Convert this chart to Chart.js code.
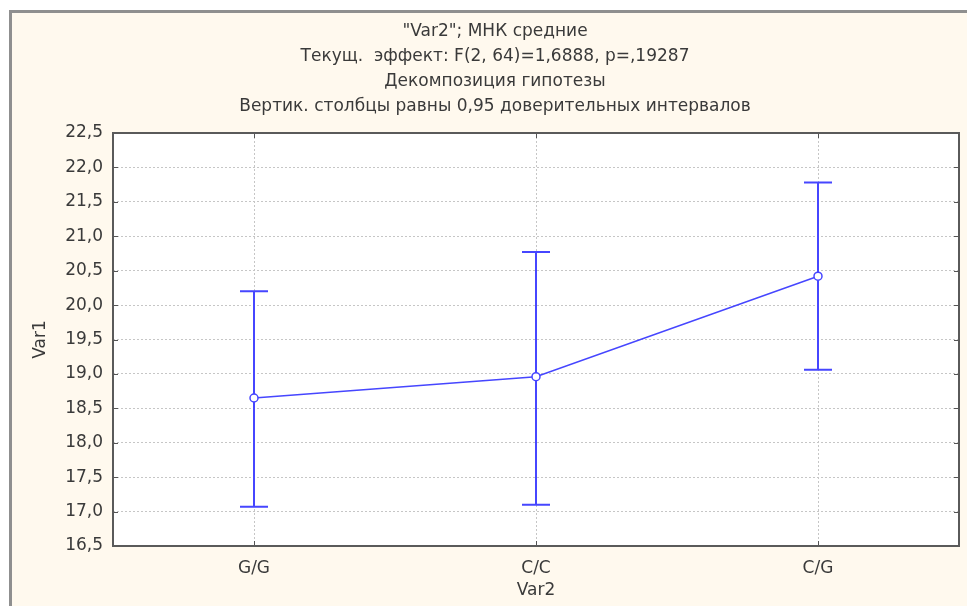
<!DOCTYPE html>
<html>
<head>
<meta charset="utf-8">
<script src="https://cdn.jsdelivr.net/npm/chart.js@4/dist/chart.umd.min.js"></script>
<style>
  html, body { margin: 0; padding: 0; background: #ffffff; }
  canvas { display: block; }
</style>
</head>
<body>
<canvas id="chart" width="967" height="606"></canvas>
<script>
// Least-squares means of Var1 by Var2 group, with 0.95 confidence intervals
const categories = ['G/G', 'C/C', 'C/G'];
const means = [18.65, 18.96, 20.42];
const ciLower = [17.07, 17.10, 19.06];
const ciUpper = [20.20, 20.77, 21.78];

const titleLines = [
  '"Var2"; МНК средние',
  'Текущ.  эффект: F(2, 64)=1,6888, p=,19287',
  'Декомпозиция гипотезы',
  'Вертик. столбцы равны 0,95 доверительных интервалов'
];
const yAxisTitle = 'Var1';
const xAxisTitle = 'Var2';
const yMin = 16.5, yMax = 22.5, yStep = 0.5;

const FONT = "'DejaVu Sans', 'Liberation Sans', sans-serif";
const BLUE = '#4646ff';
const TEXT = '#3a3a3a';

// window frame, cream panel and white plotting area
const backdrop = {
  id: 'backdrop',
  beforeDraw(chart) {
    const { ctx, width, height, chartArea: a } = chart;
    ctx.save();
    ctx.fillStyle = '#ffffff';
    ctx.fillRect(0, 0, width, height);
    ctx.fillStyle = '#fff9ee';
    ctx.fillRect(12, 13, width - 12, height - 13);
    ctx.fillStyle = '#8f8f8f';
    ctx.fillRect(9, 10, 3, height - 10);
    ctx.fillRect(9, 10, width - 9, 3);
    ctx.fillStyle = '#ffffff';
    ctx.fillRect(a.left, a.top, a.right - a.left, a.bottom - a.top);
    ctx.restore();
  }
};

// four-line heading centred over the panel
const heading = {
  id: 'heading',
  afterDraw(chart) {
    const { ctx } = chart;
    ctx.save();
    ctx.font = '17px ' + FONT;
    ctx.fillStyle = TEXT;
    ctx.textAlign = 'center';
    ctx.textBaseline = 'middle';
    titleLines.forEach((t, i) => ctx.fillText(t, 495, 32 + i * 25));
    ctx.restore();
  }
};

// confidence-interval whiskers with caps
const whiskers = {
  id: 'whiskers',
  beforeDatasetsDraw(chart) {
    const { ctx, scales: { x, y } } = chart;
    ctx.save();
    ctx.strokeStyle = BLUE;
    ctx.lineWidth = 2;
    categories.forEach((c, i) => {
      const px = Math.round(x.getPixelForValue(i));
      const lo = y.getPixelForValue(ciLower[i]);
      const hi = y.getPixelForValue(ciUpper[i]);
      ctx.beginPath();
      ctx.moveTo(px, lo); ctx.lineTo(px, hi);
      ctx.moveTo(px - 14, lo); ctx.lineTo(px + 14, lo);
      ctx.moveTo(px - 14, hi); ctx.lineTo(px + 14, hi);
      ctx.stroke();
    });
    ctx.restore();
  }
};

// plot frame with inward tick marks on all four sides
const frame = {
  id: 'frame',
  afterDatasetsDraw(chart) {
    const { ctx, chartArea: a, scales: { x, y } } = chart;
    ctx.save();
    ctx.strokeStyle = '#555555';
    ctx.lineWidth = 1;
    ctx.beginPath();
    x.ticks.forEach((t, i) => {
      const px = Math.round(x.getPixelForTick(i)) + 0.5;
      ctx.moveTo(px, a.bottom); ctx.lineTo(px, a.bottom - 5);
      ctx.moveTo(px, a.top); ctx.lineTo(px, a.top + 5);
    });
    y.ticks.forEach((t, i) => {
      const py = Math.round(y.getPixelForTick(i)) + 0.5;
      ctx.moveTo(a.left, py); ctx.lineTo(a.left + 5, py);
      ctx.moveTo(a.right, py); ctx.lineTo(a.right - 5, py);
    });
    ctx.stroke();
    ctx.lineWidth = 2;
    ctx.strokeStyle = '#5a5a5a';
    ctx.strokeRect(a.left, a.top, a.right - a.left, a.bottom - a.top);
    ctx.restore();
  }
};

new Chart(document.getElementById('chart'), {
  type: 'line',
  data: {
    labels: categories,
    datasets: [{
      data: means,
      borderColor: BLUE,
      borderWidth: 1.5,
      pointRadius: 4,
      pointHoverRadius: 4,
      pointBorderWidth: 1.5,
      pointBackgroundColor: '#ffffff',
      pointBorderColor: BLUE,
      tension: 0
    }]
  },
  options: {
    responsive: false,
    animation: false,
    devicePixelRatio: 1,
    layout: { padding: { left: 0, right: 8, top: 133, bottom: 0 } },
    plugins: {
      legend: { display: false },
      tooltip: { enabled: false },
      title: { display: false }
    },
    scales: {
      x: {
        type: 'category',
        offset: true,
        grid: { color: '#c6c6c6', drawTicks: false, offset: false },
        border: { display: false, dash: [2, 2] },
        ticks: { color: TEXT, font: { family: FONT, size: 17 }, padding: 12 },
        title: { display: true, text: xAxisTitle, color: TEXT, font: { family: FONT, size: 17 }, padding: { top: 0, bottom: 5 } },
        afterFit(s) { s.height = 60; }
      },
      y: {
        min: yMin,
        max: yMax,
        grid: { color: '#c6c6c6', drawTicks: false },
        border: { display: false, dash: [2, 2] },
        ticks: {
          stepSize: yStep,
          color: TEXT,
          font: { family: FONT, size: 17 },
          padding: 10,
          callback: v => v.toFixed(1).replace('.', ',')
        },
        title: { display: true, text: yAxisTitle, color: TEXT, font: { family: FONT, size: 17 }, padding: { top: 30, bottom: 0 } },
        afterFit(s) { s.width = 113; }
      }
    }
  },
  plugins: [backdrop, whiskers, frame, heading]
});
</script>
</body>
</html>
